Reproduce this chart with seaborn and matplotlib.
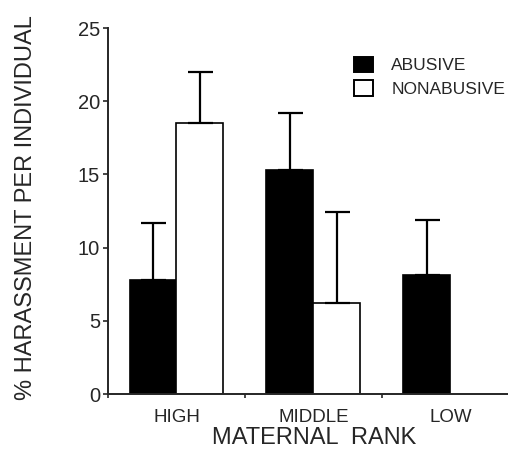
import matplotlib
matplotlib.use("Agg")
import matplotlib.pyplot as plt
from matplotlib.patches import Patch
from matplotlib.ticker import FixedLocator
import seaborn as sns
import pandas as pd
import numpy as np

ranks = ["HIGH", "MIDDLE", "LOW"]
groups = ["ABUSIVE", "NONABUSIVE"]
abusive_mean = [7.8, 15.3, 8.1]
abusive_err = [3.9, 3.9, 3.8]
nonabusive_mean = [18.5, 6.2]          # no nonabusive bar for LOW
nonabusive_err = [3.5, 6.2]
nonabusive_ranks = ["HIGH", "MIDDLE"]
y_ticks = [0, 5, 10, 15, 20, 25]

rows = []
for r, m, e in zip(ranks, abusive_mean, abusive_err):
    rows.append({"rank": r, "group": "ABUSIVE", "value": m, "err": e})
for r, m, e in zip(nonabusive_ranks, nonabusive_mean, nonabusive_err):
    rows.append({"rank": r, "group": "NONABUSIVE", "value": m, "err": e})
df = pd.DataFrame(rows)

sns.set_style("ticks")
plt.rcParams["font.family"] = ["Liberation Sans", "DejaVu Sans"]

fig = plt.figure(figsize=(5.08, 4.68), dpi=100)
ax = fig.add_axes([0.2126, 0.1581, 0.7874, 0.782])

palette = {"ABUSIVE": "black", "NONABUSIVE": "white"}
width = 0.686
sns.barplot(data=df, x="rank", y="value", hue="group", order=ranks,
            hue_order=groups, palette=palette, width=width, errorbar=None,
            edgecolor="black", linewidth=1.2, legend=False, ax=ax, zorder=2)

# upward-only error bars
for _, row in df.iterrows():
    xpos = ranks.index(row["rank"]) + (groups.index(row["group"]) - 0.5) * width / 2
    ax.errorbar([xpos], [row["value"]], yerr=[[0], [row["err"]]], fmt="none",
                ecolor="black", elinewidth=1.6, capsize=9, capthick=1.6, zorder=3)

ax.set_ylim(0, 25)
ax.set_xlim(-0.5, 2.42)
ax.set_yticks(y_ticks)
ax.set_yticklabels([str(t) for t in y_ticks])
ax.tick_params(axis="y", length=3.6, width=1.2, pad=2, labelsize=14.5)
ax.tick_params(axis="x", which="major", length=0, pad=11, labelsize=13.5)
ax.xaxis.set_minor_locator(FixedLocator([-0.5, 0.5, 1.5]))
ax.tick_params(axis="x", which="minor", length=3, width=1.2)

sns.despine(ax=ax)
for s in ["left", "bottom"]:
    ax.spines[s].set_linewidth(1.4)

ax.set_ylabel("% HARASSMENT PER INDIVIDUAL", fontsize=17)
ax.yaxis.set_label_coords(-0.1775, 0.51)
ax.set_xlabel("MATERNAL  RANK", fontsize=17)
ax.xaxis.set_label_coords(0.515, -0.0915)

handles = [Patch(facecolor=palette[g], edgecolor="black", linewidth=1.4, label=g) for g in groups]
ax.legend(handles=handles, loc="upper left", bbox_to_anchor=(0.615, 0.922),
          frameon=False, fontsize=12.5, handlelength=1.1, handleheight=1.0,
          handletextpad=1.05, labelspacing=0.4, borderpad=0, borderaxespad=0)

fig.savefig("out.png", dpi=100)
